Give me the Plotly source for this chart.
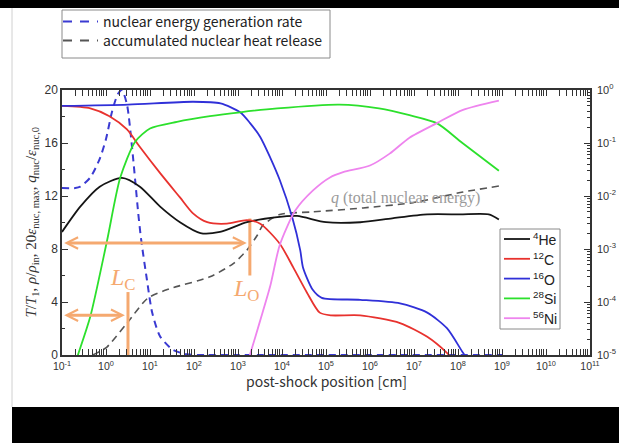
import math
import plotly.graph_objects as go

# ---------------- data (post-shock position in cm) ----------------
# mass fractions, right (log) axis
he_x = [0.1, 0.26, 0.72, 2.3, 5.9, 17, 48, 140, 390, 1600, 7800, 2.2e4, 1e5, 6e5, 3.2e6, 2e7, 1.1e8, 5e8, 8.5e8]
he_X = [2.1e-3, 6.3e-3, 1.5e-2, 2.2e-2, 1.5e-2, 6.3e-3, 3.2e-3, 2.0e-3, 2.1e-3, 3.2e-3, 4.0e-3, 4.2e-3,
        3.2e-3, 3.2e-3, 3.8e-3, 4.5e-3, 4.5e-3, 4.5e-3, 3.6e-3]

c_x = [0.1, 0.44, 1.2, 3.0, 5.9, 17, 48, 95, 200, 560, 1600, 3200, 8900, 1.8e4, 3.7e4, 7.2e4, 1.3e5,
       6e5, 4.8e6, 2e7, 5.6e7, 7e7]
c_X = [0.50, 0.45, 0.32, 0.18, 0.084, 0.027, 9.4e-3, 4.7e-3, 3.2e-3, 3.0e-3, 3.5e-3, 3.0e-3, 1.26e-3,
       4.5e-4, 1.5e-4, 6.3e-5, 5.6e-5, 5.6e-5, 4.0e-5, 2.2e-5, 1.1e-5, 9e-6]

o_x = [0.1, 3.2, 95, 400, 1120, 1860, 3200, 5400, 8900, 1.7e4, 2.6e4, 3.0e4, 5e4, 8e4, 6e5, 4.8e6,
       2e7, 5.6e7, 1.3e8, 1.6e8]
o_X = [0.50, 0.53, 0.60, 0.56, 0.38, 0.24, 0.13, 0.053, 0.020, 4.0e-3, 9.4e-4, 4.5e-4, 1.7e-4, 1.2e-4,
       1.1e-4, 9.4e-5, 6.3e-5, 3.2e-5, 1.1e-5, 8.7e-6]

si_x = [0.2, 0.23, 0.44, 1.05, 2.1, 4.6, 10, 41, 230, 1120, 7800, 2e5, 1.6e6, 7.9e6, 3.3e7, 1.26e8, 8.5e8]
si_X = [7e-6, 1.0e-5, 5.3e-5, 1.4e-3, 0.022, 0.106, 0.188, 0.25, 0.32, 0.38, 0.45, 0.53, 0.45, 0.335,
        0.237, 0.10, 0.030]

ni_x = [1700, 1860, 3200, 5400, 8900, 2.0e4, 5e4, 1.23e5, 2.45e5, 1e6, 2.8e6, 7.9e6, 3.3e7, 1.3e8, 8.5e8]
ni_X = [7.9e-6, 1.0e-5, 4.5e-5, 2.0e-4, 1.19e-3, 5.3e-3, 0.0126, 0.0224, 0.0282, 0.0376, 0.063, 0.126,
        0.237, 0.422, 0.631]

# left (linear) axis quantities
eps_x = [0.1, 0.2, 0.26, 0.44, 0.72, 1.0, 1.38, 1.86, 2.3, 3.0, 3.9, 4.6, 5.4, 6.3, 8.5, 11.2, 17, 33,
         69, 200, 1e3, 1e9]
eps_v = [12.6, 12.6, 12.7, 13.4, 14.8, 16.3, 18.4, 19.7, 20.0, 18.9, 15.7, 13.2, 10.7, 8.7, 5.7, 3.2,
         1.4, 0.4, 0.05, 0.0, 0.0, 0.0]

q_x = [0.5, 0.75, 1.05, 3.0, 9.0, 28, 230, 780, 1580, 2700, 3700, 8900, 5e4, 7e5, 9.5e6, 1.3e8, 8.5e8]
q_v = [0.0, 0.3, 0.6, 2.4, 4.3, 5.0, 5.9, 6.9, 7.9, 9.0, 9.8, 10.6, 10.8, 11.1, 11.5, 12.3, 12.75]

# characteristic burning lengths [cm] and the heights of their markers
lc_pos, lc_arrow_y, lc_bar = 3.16, 3.0, (4.75, 0.0)
lo_pos, lo_arrow_y, lo_bar = 1860, 8.45, (10.3, 6.0)

x_ticks = list(range(-1, 12))
y_ticks = [0, 4, 8, 12, 16, 20]
y2_ticks = list(range(-5, 1))

species = [
    ("<sup>4</sup>He", he_x, he_X, "#151515"),
    ("<sup>12</sup>C", c_x, c_X, "#E8322E"),
    ("<sup>16</sup>O", o_x, o_X, "#3030D8"),
    ("<sup>28</sup>Si", si_x, si_X, "#2CE02C"),
    ("<sup>56</sup>Ni", ni_x, ni_X, "#EE84EE"),
]

# ---------------- geometry ----------------
W, H = 619, 443
ML, MR, MT, MB = 62, 29, 90, 88
PW, PH = W - ML - MR, H - MT - MB


def px(x):
    return (x - ML) / PW


def py(y):
    return (H - MB - y) / PH


ORANGE = "#F5A970"
AXC = "#333333"
SANS = "Liberation Sans"
SERIF = "Liberation Serif"
GOTHIC = "Noto Sans CJK JP"

fig = go.Figure()

# energy generation rate and accumulated heat (left axis)
fig.add_trace(go.Scatter(x=eps_x, y=eps_v, mode="lines", yaxis="y",
                         line=dict(color="#3A3AD2", width=2, dash="7px,5px", shape="spline", smoothing=0.7)))
fig.add_trace(go.Scatter(x=q_x, y=q_v, mode="lines", yaxis="y",
                         line=dict(color="#555555", width=1.6, dash="7px,5px", shape="spline", smoothing=0.7)))

# mass fractions (right axis)
for name, xs, ys, col in species:
    fig.add_trace(go.Scatter(x=xs, y=ys, mode="lines", yaxis="y2", name=name,
                             line=dict(color=col, width=1.8, shape="spline", smoothing=0.7)))

# length-scale bars
for pos, (y0, y1) in ((lc_pos, lc_bar), (lo_pos, lo_bar)):
    fig.add_trace(go.Scatter(x=[pos, pos], y=[y0, y1], mode="lines", yaxis="y",
                             line=dict(color=ORANGE, width=3)))

annotations = []
# double-headed arrows from the shock front to each length
for pos, ya in ((lc_pos, lc_arrow_y), (lo_pos, lo_arrow_y)):
    annotations.append(dict(x=math.log10(pos) - 0.07, y=ya, ax=-0.985, ay=ya, xref="x", yref="y",
                            axref="x", ayref="y", text="", showarrow=True, arrowside="end+start",
                            arrowhead=5, startarrowhead=5, arrowsize=0.75, startarrowsize=0.75,
                            arrowwidth=3, arrowcolor=ORANGE))

annotations += [
    dict(x=0.39, y=5.7, xref="x", yref="y", text="<i>L</i><sub>C</sub>", showarrow=False,
         font=dict(family=SERIF, size=24, color=ORANGE)),
    dict(x=3.18, y=4.9, xref="x", yref="y", text="<i>L</i><sub>O</sub>", showarrow=False,
         font=dict(family=SERIF, size=24, color=ORANGE)),
    dict(x=6.8, y=11.85, xref="x", yref="y", text="<i>q</i> (total nuclear energy)", showarrow=False,
         font=dict(family=SERIF, size=16, color="#9A9A9A")),
    # axis titles
    dict(x=px(20), y=0.5, xref="paper", yref="paper", textangle=-90, showarrow=False,
         text="<i>T</i>/<i>T</i><sub>1</sub>, <i>ρ</i>/<i>ρ</i><sub>in</sub>, 20<i>ε</i><sub>nuc, max</sub>, "
              "<i>q</i><sub>nuc</sub>/<i>ε</i><sub>nuc,0</sub>",
         font=dict(family=SERIF, size=15, color=AXC)),
    dict(x=0.5, y=py(393), xref="paper", yref="paper", showarrow=False, text="post-shock position [cm]",
         font=dict(family=GOTHIC, size=14, color=AXC)),
]

shapes = [
    # black bands
    dict(type="rect", xref="paper", yref="paper", x0=px(0), x1=px(W), y0=py(8), y1=py(0),
         fillcolor="black", line=dict(width=0), layer="below"),
    dict(type="rect", xref="paper", yref="paper", x0=px(12), x1=px(W), y0=py(H), y1=py(407),
         fillcolor="black", line=dict(width=0), layer="below"),
    dict(type="line", xref="paper", yref="paper", x0=px(12), x1=px(12), y0=py(407), y1=py(8),
         line=dict(color="#D0D0D0", width=1)),
    # upper legend
    dict(type="rect", xref="paper", yref="paper", x0=px(62), x1=px(330), y0=py(58), y1=py(10),
         fillcolor="white", line=dict(color="#8A8A8A", width=1)),
    # species legend
    dict(type="rect", xref="paper", yref="paper", x0=px(500), x1=px(560), y0=py(329), y1=py(229),
         fillcolor="white", line=dict(color="#8A8A8A", width=1)),
]

# upper legend: dashed samples and labels
top_entries = [("nuclear energy generation rate", "#3A3AD2", 21.5),
               ("accumulated nuclear heat release", "#555555", 40.5)]
for label, col, yy in top_entries:
    shapes.append(dict(type="line", xref="paper", yref="paper", x0=px(63), x1=px(98), y0=py(yy), y1=py(yy),
                       line=dict(color=col, width=2, dash="9px,8px")))
    annotations.append(dict(x=px(101), y=py(yy), xref="paper", yref="paper", xanchor="left",
                            yanchor="middle", showarrow=False, text=label,
                            font=dict(family=GOTHIC, size=14, color="#222222")))

for i, (name, _, _, col) in enumerate(species):
    yy = 239 + 19.8 * i
    shapes.append(dict(type="line", xref="paper", yref="paper", x0=px(504), x1=px(530), y0=py(yy),
                       y1=py(yy), line=dict(color=col, width=1.8)))
    annotations.append(dict(x=px(531), y=py(yy), xref="paper", yref="paper", xanchor="left",
                            yanchor="middle", showarrow=False, text=name,
                            font=dict(family=SANS, size=14, color="#222222")))

minor_x = [m * 10 ** k for k in range(-1, 11) for m in range(2, 10)]
minor_y2 = [m * 10 ** k for k in range(-5, 0) for m in range(2, 10)]

fig.update_layout(
    width=W, height=H, autosize=False,
    margin=dict(l=ML, r=MR, t=MT, b=MB),
    paper_bgcolor="white", plot_bgcolor="white",
    showlegend=False,
    xaxis=dict(type="log", range=[-1, 11], showgrid=False, zeroline=False, automargin=False,
               tickvals=[10 ** k for k in x_ticks], ticktext=[f"10<sup>{k}</sup>" for k in x_ticks],
               ticks="inside", ticklen=6, tickwidth=1, tickcolor=AXC, ticklabelstandoff=1,
               showline=True, linecolor=AXC, linewidth=1.5, mirror="allticks",
               minor=dict(tickvals=minor_x, ticks="inside", ticklen=3, tickcolor=AXC, showgrid=False),
               tickfont=dict(family=SANS, size=10.5, color=AXC)),
    yaxis=dict(range=[0, 20], showgrid=False, zeroline=False, tickvals=y_ticks, automargin=False,
               ticks="inside", ticklen=6, tickcolor=AXC, showline=True, linecolor=AXC, linewidth=1.5,
               minor=dict(tickvals=[2, 6, 10, 14, 18], ticks="inside", ticklen=3, tickcolor=AXC,
                          showgrid=False),
               tickfont=dict(family=SANS, size=12, color=AXC)),
    yaxis2=dict(type="log", range=[-5, 0], overlaying="y", side="right", showgrid=False,
                zeroline=False, automargin=False, tickvals=[10 ** k for k in y2_ticks],
                ticktext=[f"10<sup>{k}</sup>" for k in y2_ticks], ticklabelstandoff=3,
                ticks="inside", ticklen=6, tickcolor=AXC, showline=True, linecolor=AXC, linewidth=1.5,
                minor=dict(tickvals=minor_y2, ticks="inside", ticklen=3, tickcolor=AXC, showgrid=False),
                tickfont=dict(family=SANS, size=11, color=AXC)),
    annotations=annotations,
    shapes=shapes,
)

fig.write_html("out.html")
